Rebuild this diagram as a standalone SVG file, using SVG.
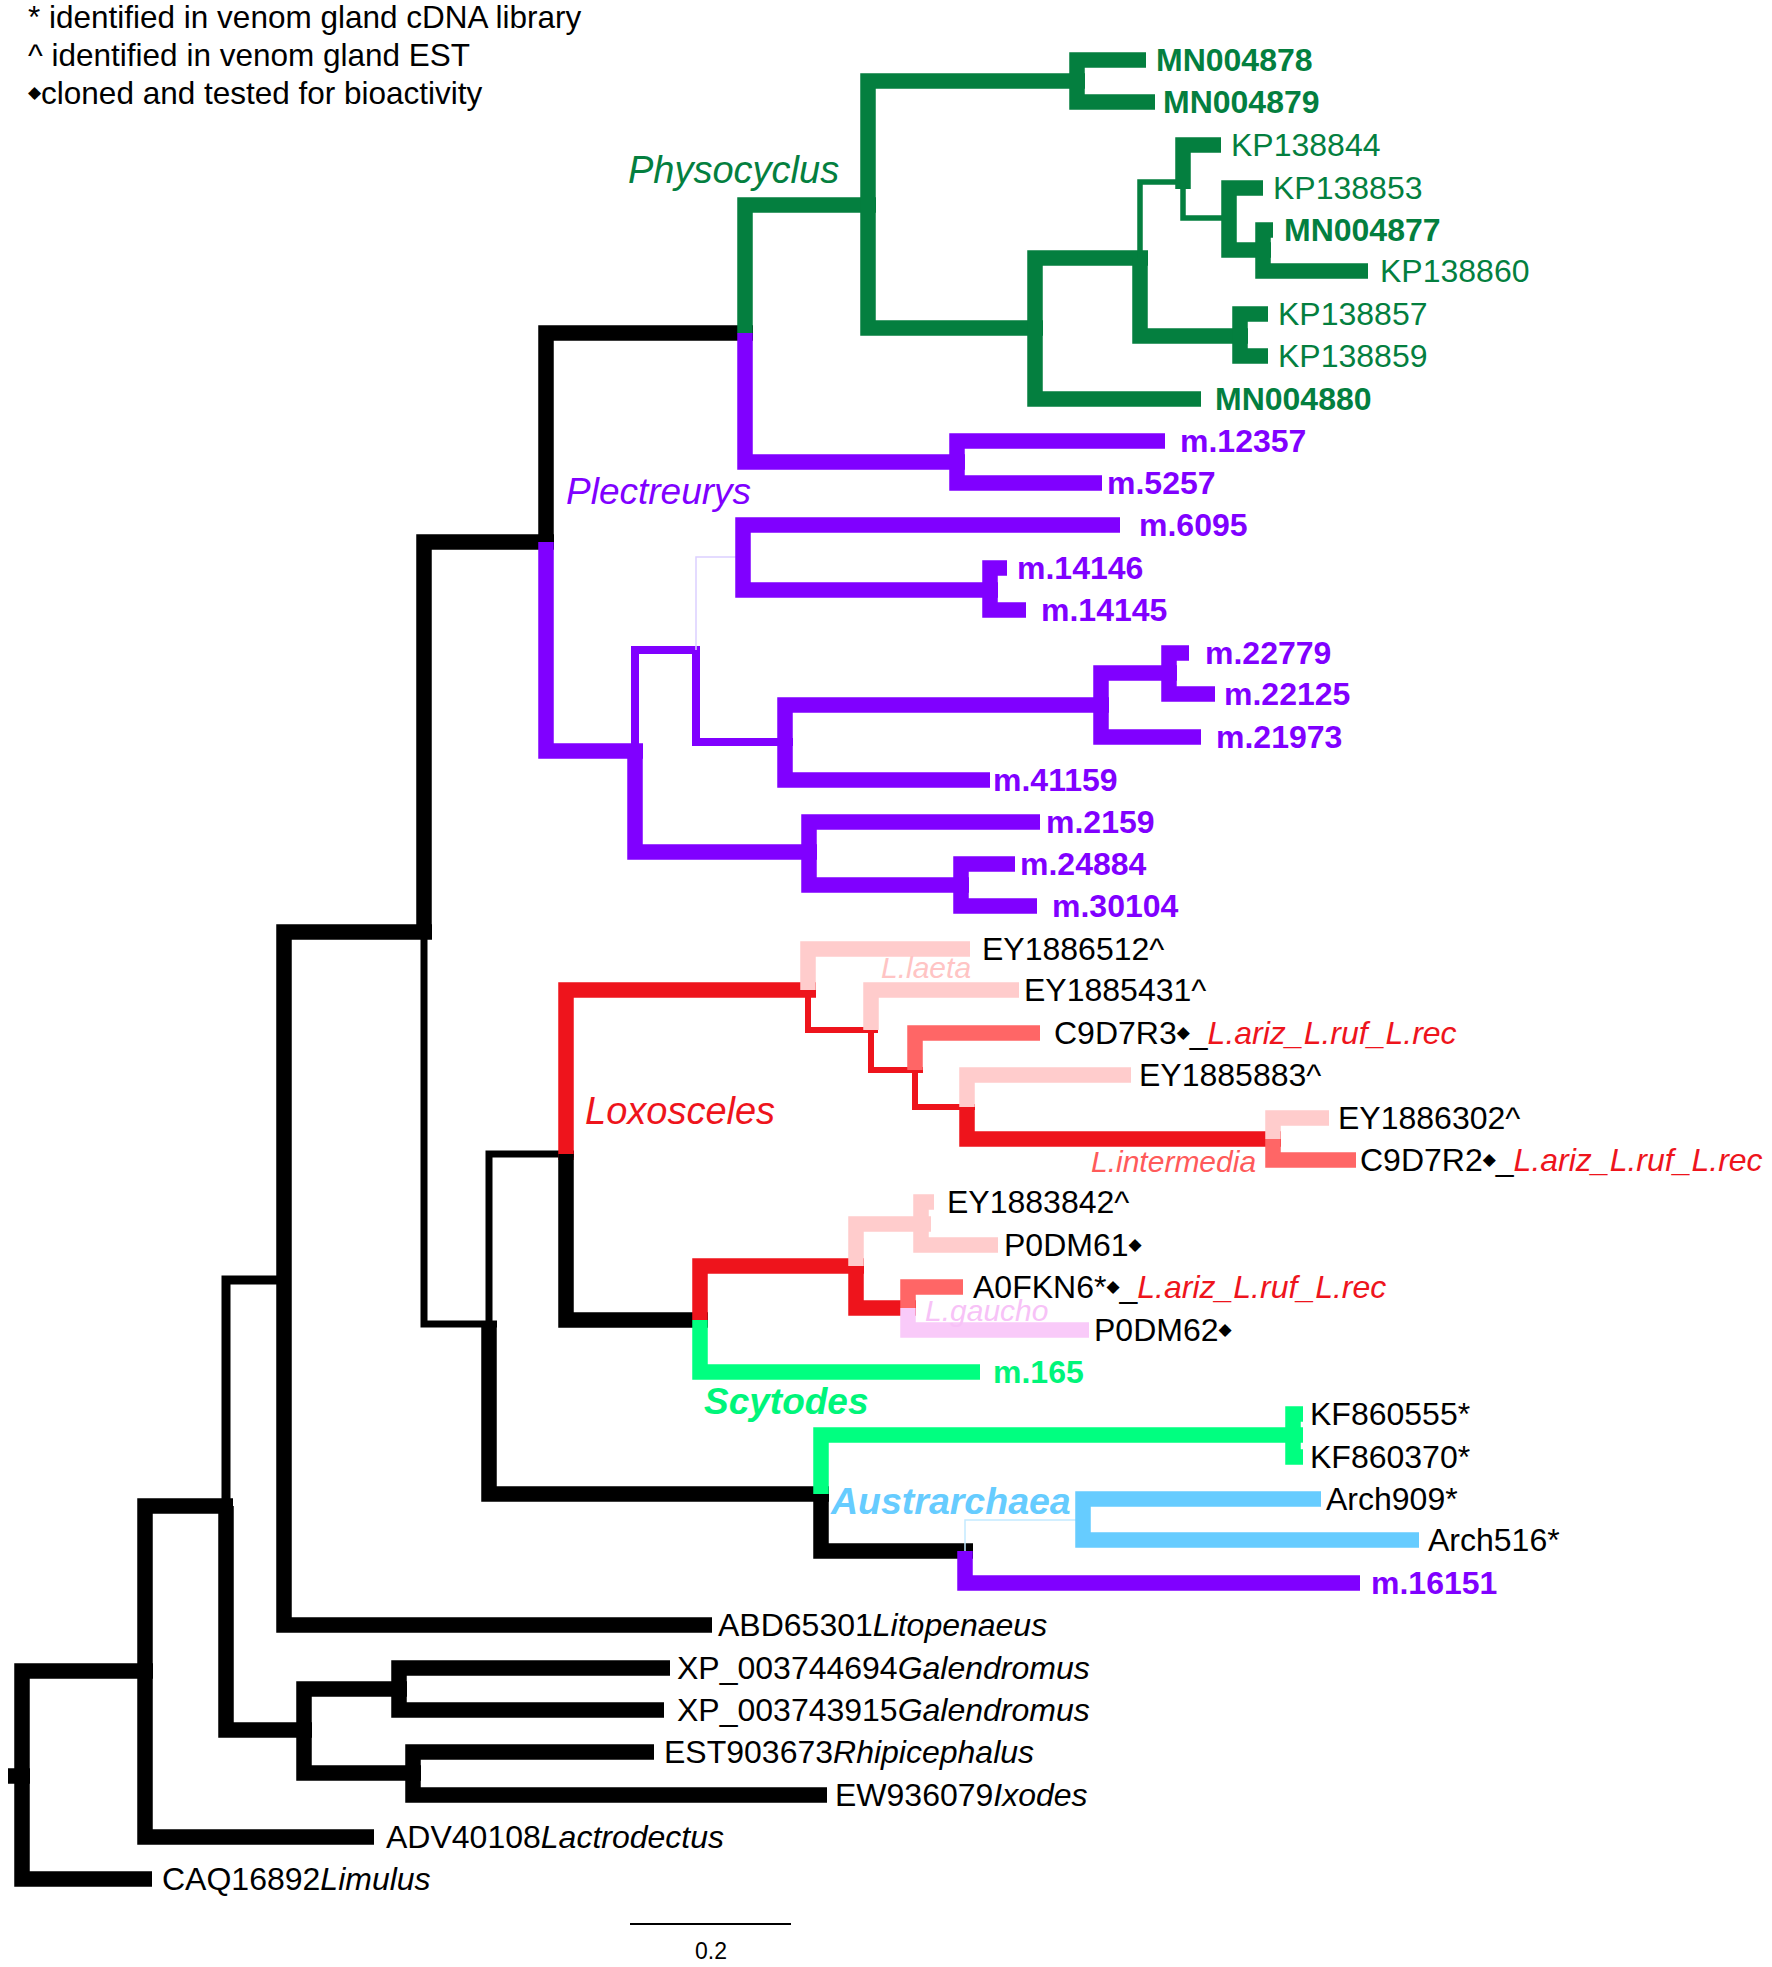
<svg xmlns="http://www.w3.org/2000/svg" width="1772" height="1967" viewBox="0 0 1772 1967">
<style>
path{fill:none;stroke-linejoin:miter;stroke-linecap:butt}
.k{stroke:#000;stroke-width:15.5}
.k9{stroke:#000;stroke-width:9}
.k7{stroke:#000;stroke-width:7}
.g{stroke:#047F3F;stroke-width:15.5}
.g6{stroke:#047F3F;stroke-width:5.5}
.p{stroke:#8000FF;stroke-width:15.5}
.p8{stroke:#8000FF;stroke-width:8}
.pf{stroke:#DCD0FF;stroke-width:1.5}
.r{stroke:#EE141C;stroke-width:15.5}
.r6{stroke:#EE141C;stroke-width:6}
.pk{stroke:#FFCCCC;stroke-width:15.5}
.sa{stroke:#FF6666;stroke-width:15.5}
.lv{stroke:#F9CAF9;stroke-width:15.5}
.sg{stroke:#00FF80;stroke-width:15.5}
.bl{stroke:#66CCFF;stroke-width:15.5}
.bf{stroke:#C4EAFF;stroke-width:1.5}
text{font-family:"Liberation Sans",Arial,sans-serif;font-size:32px;fill:#000}
.tg{fill:#047F3F}
.b{font-weight:bold}
.tp{fill:#8000FF;font-weight:bold}
.it{font-style:italic}
.red{fill:#EE141C}
.dm{font-family:"DejaVu Sans",sans-serif;font-size:17px}
.clade{font-size:37px;font-style:italic}
.sub{font-size:30px;font-style:italic}
.leg{font-size:31.5px}
</style>

<g id="connectors">
<path class="k" d="M8,1776 H30"/>
<path class="k" d="M22,1776 V1671 H153"/>
<path class="k" d="M22,1776 V1879 H152"/>
<path class="k" d="M145,1671 V1506 H233"/>
<path class="k" d="M145,1671 V1837 H374"/>
<path class="k9" d="M226,1506 V1280 H291"/>
<path class="k" d="M226,1506 V1730 H312"/>
<path class="k" d="M304,1730 V1689 H407"/>
<path class="k" d="M304,1730 V1773 H421"/>
<path class="k" d="M399,1689 V1668 H670"/>
<path class="k" d="M399,1689 V1710 H664"/>
<path class="k" d="M413,1773 V1752 H654"/>
<path class="k" d="M413,1773 V1795 H827"/>
<path class="k" d="M284,1280 V932 H432"/>
<path class="k" d="M284,1280 V1625 H712"/>
<path class="k" d="M424,932 V542 H554"/>
<path class="k7" d="M424,932 V1324 H497"/>
<path class="k" d="M546,542 V333 H753"/>
<path class="p" d="M546,542 V751 H643"/>
<path class="g" d="M745,333 V205 H876"/>
<path class="p" d="M745,333 V462 H965"/>
<path class="g" d="M868,205 V81 H1085"/>
<path class="g" d="M868,205 V328 H1043"/>
<path class="g" d="M1077,81 V60 H1146"/>
<path class="g" d="M1077,81 V102 H1155"/>
<path class="g" d="M1035,328 V258 H1148"/>
<path class="g" d="M1035,328 V399 H1201"/>
<path class="g6" d="M1140,258 V182 H1183"/>
<path class="g" d="M1140,258 V336 H1248"/>
<path class="g" d="M1240,336 V314 H1268"/>
<path class="g" d="M1240,336 V356 H1268"/>
<path class="g" d="M1183,189 V145 H1221"/>
<path class="g6" d="M1183,182 V218 H1229"/>
<path class="g" d="M1229,218 V188 H1263"/>
<path class="g" d="M1229,218 V250 H1271"/>
<path class="g" d="M1263,250 V230 H1273"/>
<path class="g" d="M1263,250 V271 H1368"/>
<path class="p" d="M957,462 V441 H1165"/>
<path class="p" d="M957,462 V483 H1102"/>
<path class="p8" d="M635,751 V650 H700"/>
<path class="p" d="M635,751 V852 H817"/>
<path class="pf" d="M696,650 V557 H736"/>
<path class="p8" d="M696,650 V742 H793"/>
<path class="p" d="M743,557 V525 H1120"/>
<path class="p" d="M743,557 V590 H998"/>
<path class="p" d="M990,590 V568 H1007"/>
<path class="p" d="M990,590 V610 H1026"/>
<path class="p" d="M785,742 V705 H1109"/>
<path class="p" d="M785,742 V780 H990"/>
<path class="p" d="M1101,705 V673 H1177"/>
<path class="p" d="M1101,705 V737 H1201"/>
<path class="p" d="M1169,673 V653 H1189"/>
<path class="p" d="M1169,673 V694 H1215"/>
<path class="p" d="M809,852 V822 H1040"/>
<path class="p" d="M809,852 V885 H969"/>
<path class="p" d="M961,885 V864 H1015"/>
<path class="p" d="M961,885 V906 H1037"/>
<path class="k7" d="M489,1324 V1154 H574"/>
<path class="k" d="M489,1324 V1494 H829"/>
<path class="r" d="M566,1160 V990 H816"/>
<path class="k" d="M566,1154 V1320 H708"/>
<path class="pk" d="M808,990 V949 H970"/>
<path class="r6" d="M808,990 V1030 H878"/>
<path class="pk" d="M871,1030 V990 H1019"/>
<path class="r6" d="M871,1030 V1070 H923"/>
<path class="sa" d="M915,1070 V1033 H1040"/>
<path class="r6" d="M915,1070 V1107 H975"/>
<path class="pk" d="M967,1107 V1075 H1131"/>
<path class="r" d="M967,1107 V1139 H1281"/>
<path class="pk" d="M1273,1139 V1118 H1329"/>
<path class="sa" d="M1273,1139 V1160 H1356"/>
<path class="r" d="M700,1320 V1266 H864"/>
<path class="sg" d="M700,1320 V1372 H980"/>
<path class="pk" d="M856,1266 V1224 H931"/>
<path class="r" d="M856,1266 V1308 H916"/>
<path class="pk" d="M921,1224 V1202 H934"/>
<path class="pk" d="M921,1224 V1245 H998"/>
<path class="sa" d="M908,1308 V1287 H963"/>
<path class="lv" d="M908,1308 V1330 H1089"/>
<path class="sg" d="M821,1494 V1435 H1303"/>
<path class="k" d="M821,1494 V1551 H973"/>
<path class="sg" d="M1293,1435 V1414 H1303"/>
<path class="sg" d="M1293,1435 V1457 H1303"/>
<path class="bf" d="M965,1551 V1520 H1076"/>
<path class="p" d="M965,1551 V1583 H1360"/>
<path class="bl" d="M1083,1520 V1499 H1321"/>
<path class="bl" d="M1083,1520 V1540 H1419"/>
</g>

<g id="legend">
<text class="leg" x="28" y="28">* identified in venom gland cDNA library</text>
<text class="leg" x="28" y="66">^ identified in venom gland EST</text>
<text class="leg" x="28" y="104"><tspan class="dm" dy="-6">◆</tspan><tspan dy="6">cloned and tested for bioactivity</tspan></text>
</g>

<g id="clade-labels">
<text id="lbl-physocyclus" class="clade tg" x="628" y="183" style="font-size:38px">Physocyclus</text>
<text id="lbl-plectreurys" class="clade" x="566" y="504" style="fill:#8000FF">Plectreurys</text>
<text id="lbl-loxosceles" class="clade red" x="585" y="1124" style="font-size:38px">Loxosceles</text>
<text id="lbl-llaeta" class="sub" x="881" y="978" style="fill:#FFC4C4">L.laeta</text>
<text id="lbl-lintermedia" class="sub" x="1091" y="1172" style="fill:#FF5A5A">L.intermedia</text>
<text id="lbl-lgaucho" class="sub" x="925" y="1321" style="fill:#F7C2F7">L.gaucho</text>
<text id="lbl-scytodes" class="clade b" x="704" y="1414" style="fill:#00F57A">Scytodes</text>
<text id="lbl-austrarchaea" class="clade b" x="831" y="1514" style="fill:#66CCFF;font-size:37.5px">Austrarchaea</text>
</g>

<g id="n-MN004878"><text class="tg b" x="1156" y="71">MN004878</text></g>
<g id="n-MN004879"><text class="tg b" x="1163" y="113">MN004879</text></g>
<g id="n-KP138844"><text class="tg" x="1231" y="156">KP138844</text></g>
<g id="n-KP138853"><text class="tg" x="1273" y="199">KP138853</text></g>
<g id="n-MN004877"><text class="tg b" x="1284" y="241">MN004877</text></g>
<g id="n-KP138860"><text class="tg" x="1380" y="282">KP138860</text></g>
<g id="n-KP138857"><text class="tg" x="1278" y="325">KP138857</text></g>
<g id="n-KP138859"><text class="tg" x="1278" y="367">KP138859</text></g>
<g id="n-MN004880"><text class="tg b" x="1215" y="410">MN004880</text></g>

<g id="n-m12357"><text class="tp" x="1180" y="452">m.12357</text></g>
<g id="n-m5257"><text class="tp" x="1107" y="494">m.5257</text></g>
<g id="n-m6095"><text class="tp" x="1139" y="536">m.6095</text></g>
<g id="n-m14146"><text class="tp" x="1017" y="579">m.14146</text></g>
<g id="n-m14145"><text class="tp" x="1041" y="621">m.14145</text></g>
<g id="n-m22779"><text class="tp" x="1205" y="664">m.22779</text></g>
<g id="n-m22125"><text class="tp" x="1224" y="705">m.22125</text></g>
<g id="n-m21973"><text class="tp" x="1216" y="748">m.21973</text></g>
<g id="n-m41159"><text class="tp" x="993" y="791">m.41159</text></g>
<g id="n-m2159"><text class="tp" x="1046" y="833">m.2159</text></g>
<g id="n-m24884"><text class="tp" x="1020" y="875">m.24884</text></g>
<g id="n-m30104"><text class="tp" x="1052" y="917">m.30104</text></g>

<g id="n-EY1886512"><text x="982" y="960">EY1886512^</text></g>
<g id="n-EY1885431"><text x="1024" y="1001">EY1885431^</text></g>
<g id="n-C9D7R3"><text x="1054" y="1044">C9D7R3<tspan class="dm" dy="-6">◆</tspan><tspan dy="6">_</tspan><tspan class="it red">L.ariz_L.ruf_L.rec</tspan></text></g>
<g id="n-EY1885883"><text x="1139" y="1086">EY1885883^</text></g>
<g id="n-EY1886302"><text x="1338" y="1129">EY1886302^</text></g>
<g id="n-C9D7R2"><text x="1360" y="1171">C9D7R2<tspan class="dm" dy="-6">◆</tspan><tspan dy="6">_</tspan><tspan class="it red">L.ariz_L.ruf_L.rec</tspan></text></g>
<g id="n-EY1883842"><text x="947" y="1213">EY1883842^</text></g>
<g id="n-P0DM61"><text x="1004" y="1256">P0DM61<tspan class="dm" dy="-6">◆</tspan></text></g>
<g id="n-A0FKN6"><text x="973" y="1298">A0FKN6*<tspan class="dm" dy="-6">◆</tspan><tspan dy="6">_</tspan><tspan class="it red">L.ariz_L.ruf_L.rec</tspan></text></g>
<g id="n-P0DM62"><text x="1094" y="1341">P0DM62<tspan class="dm" dy="-6">◆</tspan></text></g>
<g id="n-m165"><text class="b" x="993" y="1383" style="fill:#00F57A">m.165</text></g>
<g id="n-KF860555"><text x="1310" y="1425">KF860555*</text></g>
<g id="n-KF860370"><text x="1310" y="1468">KF860370*</text></g>
<g id="n-Arch909"><text x="1326" y="1510">Arch909*</text></g>
<g id="n-Arch516"><text x="1428" y="1551">Arch516*</text></g>
<g id="n-m16151"><text class="tp" x="1371" y="1594">m.16151</text></g>
<g id="n-ABD65301"><text x="718" y="1636">ABD65301<tspan class="it">Litopenaeus</tspan></text></g>
<g id="n-XP_003744694"><text x="677" y="1679">XP_003744694<tspan class="it">Galendromus</tspan></text></g>
<g id="n-XP_003743915"><text x="677" y="1721">XP_003743915<tspan class="it">Galendromus</tspan></text></g>
<g id="n-EST903673"><text x="664" y="1763">EST903673<tspan class="it">Rhipicephalus</tspan></text></g>
<g id="n-EW936079"><text x="835" y="1806">EW936079<tspan class="it">Ixodes</tspan></text></g>
<g id="n-ADV40108"><text x="386" y="1848">ADV40108<tspan class="it">Lactrodectus</tspan></text></g>
<g id="n-CAQ16892"><text x="162" y="1890">CAQ16892<tspan class="it">Limulus</tspan></text></g>

<g id="scale-bar">
<path d="M630,1924 H791" stroke="#000" stroke-width="2"/>
<text x="711" y="1959" text-anchor="middle" style="font-size:23px">0.2</text>
</g>
</svg>
